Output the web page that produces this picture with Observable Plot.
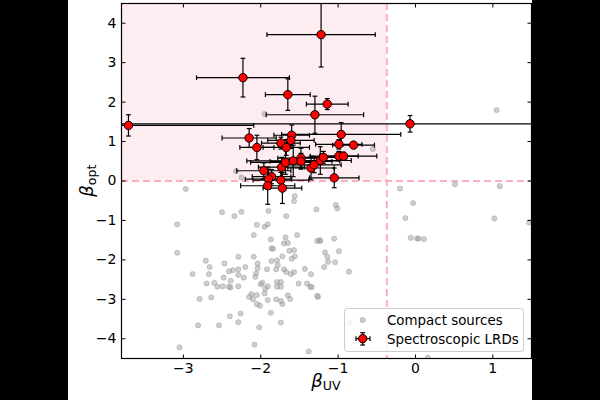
<!DOCTYPE html>
<html>
<head>
<meta charset="utf-8">
<script src="https://cdn.jsdelivr.net/npm/d3@7"></script>
<script src="https://cdn.jsdelivr.net/npm/@observablehq/plot@0.6"></script>
<style>
  html, body { margin: 0; padding: 0; background: #000; }
  #chart { width: 600px; height: 400px; }
</style>
</head>
<body>
<div id="chart"></div>
<script>
// ---------- data ----------
const xTicks = [-3, -2, -1, 0, 1];
const yTicks = [-4, -3, -2, -1, 0, 1, 2, 3, 4];
const uvCut = -0.37;
const optCut = 0;

// Spectroscopic LRDs
const lrdX    = [-1.22, -2.23, -1.65, -1.30, -1.14, -3.71, -0.07, -2.15, -2.05, -1.60, -1.61, -1.74, -1.67, -0.96, -0.99, -0.80, -1.96, -1.86, -1.90, -1.91, -1.74, -1.72, -1.73, -1.68, -1.58, -1.48, -1.48, -1.35, -1.31, -1.23, -1.19, -0.99, -0.93, -1.05];
const lrdY    = [3.71, 2.62, 2.19, 1.68, 1.95, 1.41, 1.45, 1.09, 0.85, 1.16, 1.03, 0.96, 0.85, 1.18, 0.93, 0.91, 0.26, 0.11, 0.05, -0.12, 0.02, -0.18, 0.35, 0.47, 0.51, 0.58, 0.50, 0.33, 0.41, 0.52, 0.60, 0.63, 0.63, 0.08];
const lrdXerr = [0.70, 0.60, 0.29, 0.63, 0.27, 1.62, 4.00, 0.35, 0.22, 0.23, 0.30, 0.25, 0.30, 0.77, 0.30, 0.27, 0.35, 0.25, 0.30, 0.35, 0.36, 0.25, 0.30, 0.45, 0.60, 0.30, 0.40, 0.30, 0.35, 0.40, 0.30, 0.25, 0.43, 0.32];
const lrdYerr = [0.82, 0.49, 0.40, 0.47, 0.14, 0.27, 0.21, 0.24, 0.31, 0.26, 0.20, 0.15, 0.20, 0.30, 0.12, 0.08, 0.20, 0.18, 0.25, 0.47, 0.20, 0.39, 0.25, 0.30, 0.40, 0.25, 0.20, 0.30, 0.20, 0.35, 0.15, 0.12, 0.10, 0.25];

// Compact sources
const compactX = [-2.32, -2.25, -2.97, -2.50, -2.25, -2.34, -3.08, -1.90, -1.67, -1.56, -1.57, -2.05, -1.95, -1.91, -3.08, -2.09, -1.87, -1.86, -1.84, -1.68, -1.70, -1.65, -1.53, -1.63, -1.57, -1.56, -1.60, -1.86, -1.79, -2.09, -2.04, -2.04, -1.72, -1.78, -1.70, -1.67, -1.61, -1.57, -1.80, -1.92, -2.06, -2.20, -2.07, -2.22, -2.36, -2.47, -2.29, -2.29, -2.29, -2.41, -2.39, -2.48, -2.41, -2.29, -2.71, -2.66, -2.67, -2.60, -2.70, -2.64, -2.56, -2.49, -2.39, -2.88, -2.79, -2.40, -2.26, -2.29, -2.15, -2.12, -2.10, -2.05, -2.05, -2.01, -2.00, -1.98, -1.94, -1.95, -1.91, -1.91, -1.79, -1.79, -1.74, -1.74, -1.80, -1.74, -1.72, -1.65, -1.62, -1.51, -1.43, -1.35, -1.36, -1.26, -1.27, -1.24, -2.81, -2.54, -2.02, -1.74, -3.05, -2.08, -1.38, -1.87, -0.20, 0.51, 1.09, -0.03, -0.13, 1.02, 1.47, -0.06, 0.02, 0.04, 0.11, -1.03, -1.01, -1.28, -1.05, -1.23, -0.99, -1.17, -1.14, -1.13, -1.04, -1.18, -0.86, -1.40, -1.34, -1.27, -0.85, -0.55, 1.05, -1.95, 0.16];
const compactY = [0.25, 0.09, -0.20, -0.79, -0.78, -0.89, -1.10, -0.76, -0.89, -0.38, -0.51, -1.11, -1.16, -1.10, -1.82, -1.37, -1.48, -1.71, -1.72, -1.43, -1.58, -1.57, -1.37, -1.77, -1.75, -1.91, -1.97, -2.03, -2.01, -1.92, -2.09, -2.21, -1.91, -2.13, -2.24, -2.31, -2.36, -2.31, -2.24, -2.24, -2.34, -2.18, -2.43, -2.45, -2.26, -2.09, -1.92, -2.24, -2.38, -2.29, -2.53, -2.45, -2.68, -2.67, -2.02, -2.18, -2.36, -2.58, -2.60, -2.95, -2.68, -2.67, -2.70, -2.36, -2.99, -3.43, -3.36, -3.58, -2.94, -2.87, -3.00, -2.89, -3.12, -3.16, -2.62, -2.58, -2.73, -2.85, -2.67, -3.02, -2.56, -2.68, -2.56, -2.68, -3.00, -3.04, -3.12, -2.90, -2.99, -2.60, -2.23, -2.36, -2.68, -2.94, -1.52, -1.50, -3.66, -3.66, -3.71, -3.59, -4.22, -4.15, -4.32, -3.34, -0.19, -0.08, -0.13, -0.56, -0.94, -0.95, -1.05, -1.44, -1.46, -1.46, -1.47, -0.61, -0.70, -0.72, -1.46, -1.52, -1.78, -1.81, -1.92, -2.05, -2.06, -2.18, -2.30, -2.60, -2.69, -2.91, -3.60, 0.81, 1.80, 1.70, -4.48];

// ---------- derived tables ----------
const xDomain = [-3.8, 1.5];
const yDomain = [-4.5, 4.5];
const compact = compactX.map((x, i) => ({x, y: compactY[i]}));
const lrd = lrdX.map((x, i) => ({x, y: lrdY[i], xe: lrdXerr[i], ye: lrdYerr[i]}));
const xCaps = lrd.flatMap(d => [{x: d.x - d.xe, y: d.y}, {x: d.x + d.xe, y: d.y}]);
const yCaps = lrd.flatMap(d => [{x: d.x, y: d.y - d.ye}, {x: d.x, y: d.y + d.ye}]);
const region = [{x1: xDomain[0], x2: uvCut, y1: optCut, y2: yDomain[1]}];

// custom symbols
const capV = {draw(c) { c.moveTo(0, -2.4); c.lineTo(0, 2.4); }};
const capH = {draw(c) { c.moveTo(-2.4, 0); c.lineTo(2.4, 0); }};
const TL = 4;
const tickUp = {draw(c) { c.moveTo(0, 0); c.lineTo(0, -TL); }};
const tickDown = {draw(c) { c.moveTo(0, 0); c.lineTo(0, TL); }};
const tickRight = {draw(c) { c.moveTo(0, 0); c.lineTo(TL, 0); }};
const tickLeft = {draw(c) { c.moveTo(0, 0); c.lineTo(-TL, 0); }};

const fmt = d => d < 0 ? "\u2212" + Math.abs(d) : String(d);
const pinkLine = "#ffb0be";

const chart = Plot.plot({
  width: 600,
  height: 400,
  marginLeft: 121,
  marginRight: 69,
  marginTop: 3,
  marginBottom: 42,
  style: {
    fontFamily: "DejaVu Sans",
    fontSize: "14px",
    color: "black",
    background: "linear-gradient(to right, #000 0px, #000 68px, #fff 68px, #fff 532px, #000 532px)",
    overflow: "visible"
  },
  x: {domain: xDomain, axis: null},
  y: {domain: yDomain, axis: null},
  marks: [
    Plot.rect(region, {x1: "x1", x2: "x2", y1: "y1", y2: "y2", fill: "#fdedf0"}),
    Plot.ruleX([uvCut], {stroke: pinkLine, strokeWidth: 2, strokeDasharray: "7,4"}),
    Plot.ruleY([optCut], {stroke: pinkLine, strokeWidth: 2, strokeDasharray: "7,4"}),
    Plot.dot(compact, {x: "x", y: "y", r: 2.6, fill: "#a0a0a0", fillOpacity: 0.5, stroke: "#8a8a8a", strokeOpacity: 0.45, strokeWidth: 0.8, clip: true}),
    Plot.link(lrd, {x1: d => d.x - d.xe, x2: d => d.x + d.xe, y1: "y", y2: "y", stroke: "black", strokeWidth: 1.2, clip: true}),
    Plot.link(lrd, {x1: "x", x2: "x", y1: d => d.y - d.ye, y2: d => d.y + d.ye, stroke: "black", strokeWidth: 1.2, clip: true}),
    Plot.dot(xCaps, {x: "x", y: "y", symbol: capV, fill: "none", stroke: "black", strokeWidth: 1.2, clip: true}),
    Plot.dot(yCaps, {x: "x", y: "y", symbol: capH, fill: "none", stroke: "black", strokeWidth: 1.2, clip: true}),
    Plot.dot(lrd, {x: "x", y: "y", r: 4.2, fill: "#ff0000", stroke: "black", strokeWidth: 1}),
    Plot.frame({stroke: "black", strokeWidth: 1.2}),
    // inward ticks on all four sides
    Plot.dot(xTicks, {x: d => d, y: () => yDomain[0], symbol: tickUp, fill: "none", stroke: "black", strokeWidth: 1}),
    Plot.dot(xTicks, {x: d => d, y: () => yDomain[1], symbol: tickDown, fill: "none", stroke: "black", strokeWidth: 1}),
    Plot.dot(yTicks, {y: d => d, x: () => xDomain[0], symbol: tickRight, fill: "none", stroke: "black", strokeWidth: 1}),
    Plot.dot(yTicks, {y: d => d, x: () => xDomain[1], symbol: tickLeft, fill: "none", stroke: "black", strokeWidth: 1}),
    Plot.axisX(xTicks, {anchor: "bottom", tickSize: 0, tickPadding: 5, tickFormat: fmt, label: null, fontSize: 14}),
    Plot.axisY(yTicks, {anchor: "left", tickSize: 0, tickPadding: 5, tickFormat: fmt, label: null, fontSize: 14})
  ]
});

document.getElementById("chart").appendChild(chart);

// axis titles with subscripts
const svg = d3.select(chart);
const xl = svg.append("text")
  .attr("x", 326).attr("y", 387)
  .attr("text-anchor", "middle")
  .attr("font-family", "DejaVu Sans").attr("font-size", 18).attr("fill", "black");
xl.append("tspan").attr("font-style", "italic").text("β");
xl.append("tspan").attr("font-size", 12.6).attr("dy", 3).text("UV");

const yl = svg.append("text")
  .attr("transform", "translate(93,180.7) rotate(-90)")
  .attr("text-anchor", "middle")
  .attr("font-family", "DejaVu Sans").attr("font-size", 18).attr("fill", "black");
yl.append("tspan").attr("font-style", "italic").text("β");
yl.append("tspan").attr("font-size", 12.6).attr("dy", 3).text("opt");

// legend
const lg = svg.append("g").attr("font-family", "DejaVu Sans").attr("font-size", 13.4).attr("text-anchor", "start");
lg.append("rect").attr("x", 344.5).attr("y", 308.5).attr("width", 179).attr("height", 43)
  .attr("rx", 3).attr("fill", "white").attr("fill-opacity", 0.85).attr("stroke", "#cccccc");
lg.append("circle").attr("cx", 362.7).attr("cy", 320).attr("r", 2.6)
  .attr("fill", "#a0a0a0").attr("fill-opacity", 0.5).attr("stroke", "#8a8a8a").attr("stroke-opacity", 0.45);
lg.append("text").attr("x", 387).attr("y", 324.8).attr("text-anchor", "start").attr("fill", "black").text("Compact sources");
const eb = lg.append("g").attr("stroke", "black").attr("stroke-width", 1.2);
eb.append("line").attr("x1", 356).attr("x2", 370).attr("y1", 338.7).attr("y2", 338.7);
eb.append("line").attr("x1", 362.7).attr("x2", 362.7).attr("y1", 332.7).attr("y2", 345);
eb.append("line").attr("x1", 356).attr("x2", 356).attr("y1", 336.3).attr("y2", 341.1);
eb.append("line").attr("x1", 370).attr("x2", 370).attr("y1", 336.3).attr("y2", 341.1);
eb.append("line").attr("x1", 360.3).attr("x2", 365.1).attr("y1", 332.7).attr("y2", 332.7);
eb.append("line").attr("x1", 360.3).attr("x2", 365.1).attr("y1", 345).attr("y2", 345);
lg.append("circle").attr("cx", 362.7).attr("cy", 338.7).attr("r", 4.2)
  .attr("fill", "#ff0000").attr("stroke", "black").attr("stroke-width", 1);
lg.append("text").attr("x", 387).attr("y", 343.8).attr("text-anchor", "start").attr("fill", "black").text("Spectroscopic LRDs");
</script>
</body>
</html>
